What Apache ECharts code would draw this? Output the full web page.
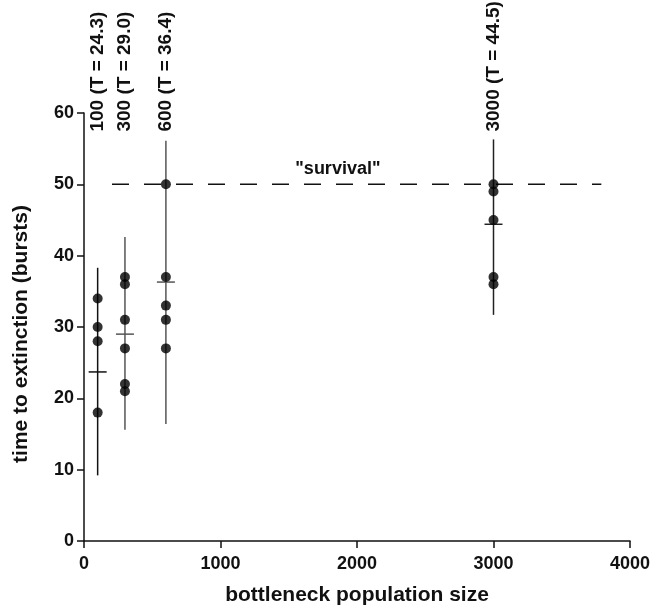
<!DOCTYPE html>
<html>
<head>
<meta charset="utf-8">
<script src="https://cdn.jsdelivr.net/npm/echarts@6/dist/echarts.min.js"></script>
<style>
  html, body { margin: 0; padding: 0; background: #fff; }
  #main { width: 660px; height: 606px; }
</style>
</head>
<body>
<div id="main"></div>
<script>
// bottleneck sizes and the runs' extinction times
var sizes = [100, 300, 600, 3000];
var runs100 = [34, 30, 28, 18];
var runs300 = [37, 36, 31, 27, 22, 21];
var runs600 = [50, 37, 33, 31, 27];
var runs3000 = [50, 49, 45, 37, 36];
// mean tick and whisker ends per size
var meanTick = [23.7, 29.0, 36.3, 44.4];
var barLow = [9.2, 15.6, 16.4, 31.7];
var barHigh = [38.3, 42.6, 56.1, 56.3];
var groupLabels = ['100 (T = 24.3)', '300 (T = 29.0)', '600 (T = 36.4)', '3000 (T = 44.5)'];
var survival = [[205, 50], [3790, 50]];

var FONT = 'Liberation Sans';

var allRuns = [runs100, runs300, runs600, runs3000];
var points = [];
allRuns.forEach(function (arr, i) {
  arr.forEach(function (v) { points.push([sizes[i], v]); });
});

var barData = sizes.map(function (s, i) {
  return [s, barLow[i], barHigh[i], meanTick[i]];
});

var barColor = ['#111', '#555', '#555', '#222'];

var myChart = echarts.init(document.getElementById('main'));
myChart.setOption({
  animation: false,
  grid: { left: 84, right: 30, top: 113, bottom: 65, outerBoundsMode: 'none', containLabel: false },
  xAxis: {
    type: 'value',
    min: 0, max: 4000, interval: 1000,
    name: 'bottleneck population size',
    nameLocation: 'middle',
    nameGap: 44,
    nameTextStyle: { fontFamily: FONT, fontWeight: 'bold', fontSize: 21, color: '#111' },
    axisLine: { lineStyle: { color: '#111', width: 1.5 } },
    axisTick: { length: 7, lineStyle: { color: '#111', width: 1.5 } },
    axisLabel: {
      fontFamily: FONT, fontWeight: 'bold', fontSize: 18, color: '#111', margin: 14,
      formatter: function (v) { return String(v); }
    },
    splitLine: { show: false }
  },
  yAxis: {
    type: 'value',
    min: 0, max: 60, interval: 10,
    name: 'time to extinction (bursts)',
    nameLocation: 'middle',
    nameGap: 52,
    nameTextStyle: { fontFamily: FONT, fontWeight: 'bold', fontSize: 21, color: '#111', padding: [0, 14, 0, 0] },
    axisLine: { show: true, lineStyle: { color: '#111', width: 1.5 } },
    axisTick: { show: true, length: 7, lineStyle: { color: '#111', width: 1.5 } },
    axisLabel: { fontFamily: FONT, fontWeight: 'bold', fontSize: 18, color: '#111', margin: 10 },
    splitLine: { show: false }
  },
  series: [
    {
      type: 'line',
      data: survival,
      symbol: 'none',
      lineStyle: { color: '#111', width: 1.5, type: [17, 15] },
      markPoint: {
        symbol: 'rect', symbolSize: 0,
        label: { show: true, formatter: '"survival"', fontFamily: FONT, fontWeight: 'bold', fontSize: 18, color: '#111', offset: [0, -15] },
        data: [{ coord: [1860, 50] }]
      },
      z: 1
    },
    {
      type: 'custom',
      data: barData,
      renderItem: function (params, api) {
        var x = api.value(0);
        var lo = api.coord([x, api.value(1)]);
        var hi = api.coord([x, api.value(2)]);
        var m = api.coord([x, api.value(3)]);
        var lab = api.coord([x, 57.4]);
        var st = { stroke: barColor[params.dataIndex], lineWidth: 1.5 };
        return {
          type: 'group',
          children: [
            { type: 'line', shape: { x1: lo[0], y1: lo[1], x2: hi[0], y2: hi[1] }, style: st },
            { type: 'line', shape: { x1: m[0] - 9, y1: m[1], x2: m[0] + 9, y2: m[1] }, style: st },
            {
              type: 'text', x: lab[0], y: lab[1], rotation: Math.PI / 2,
              style: {
                text: groupLabels[params.dataIndex], fill: '#111',
                font: 'bold 19px ' + FONT, textAlign: 'left', textVerticalAlign: 'middle'
              }
            }
          ]
        };
      },
      z: 2
    },
    {
      type: 'scatter',
      data: points,
      symbol: 'circle',
      symbolSize: 10,
      itemStyle: { color: '#000' },
      z: 3
    }
  ]
});
</script>
</body>
</html>
